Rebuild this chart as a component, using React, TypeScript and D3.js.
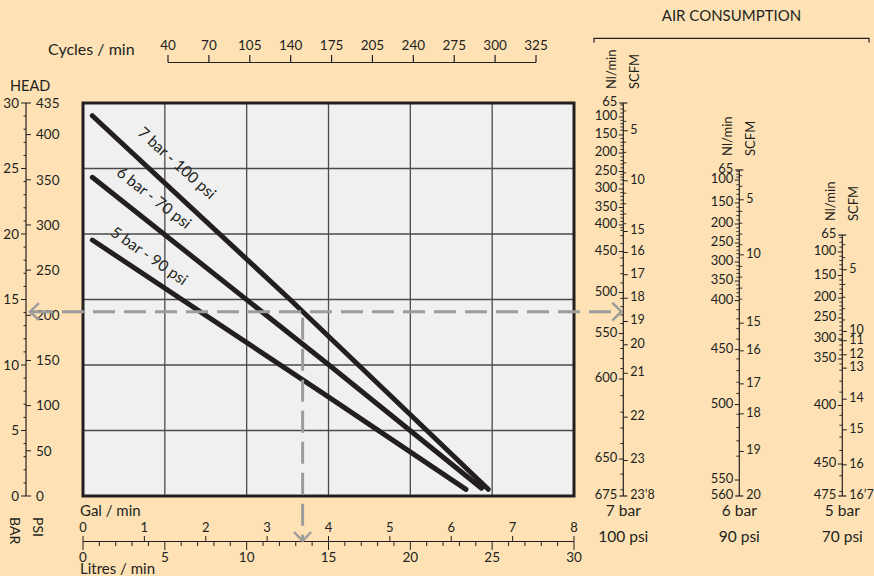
import React, { useEffect } from "react";
import * as d3 from "d3";

const W = 874;
const H = 576;
const FONT = "Lato, 'Open Sans', sans-serif";
const INK = "#231f20";
const BG = "#fee2b5";
const GUIDE = "#9c9c9c";

// ---- data ----
const CYCLES = ["40", "70", "105", "140", "175", "205", "240", "275", "300", "325"];
const BAR_TICKS = [0, 5, 10, 15, 20, 25, 30];
const PSI_TICKS = [0, 50, 100, 150, 200, 250, 300, 350, 400, 435];
const GAL_TICKS = [0, 1, 2, 3, 4, 5, 6, 7, 8];
const LITRE_TICKS = [0, 5, 10, 15, 20, 25, 30];

const SERIES_NAMES = ["7 bar - 100 psi", "6 bar - 70 psi", "5 bar - 90 psi"];
const S7_LITRES = [0.57, 12.65, 24.76];
const S7_BAR = [29.03, 15.0, 0.51];
const S6_LITRES = [0.57, 15.03, 24.35];
const S6_BAR = [24.33, 10.0, 0.59];
const S5_LITRES = [0.57, 14.97, 23.4];
const S5_BAR = [19.54, 7.58, 0.51];
// label anchor (litres, bar) and angle
const LABEL_LITRES = [5.68, 4.28, 4.0];
const LABEL_BAR = [25.34, 22.67, 18.24];
const LABEL_ANGLE = [42, 38, 35];

// operating point example
const OP_LITRES = 13.42;
const OP_BAR = 14.07;

// air consumption nomogram scales (value -> head bar position)
const AIR_BAR_LABELS = ["7 bar", "6 bar", "5 bar"];
const AIR_PSI_LABELS = ["100 psi", "90 psi", "70 psi"];

const A7_NL = [65, 100, 150, 200, 250, 300, 350, 400, 450, 500, 550, 600, 650, 675];
const A7_NL_HEAD = [30.0, 28.93, 27.56, 26.18, 24.77, 23.44, 22.02, 20.69, 18.66, 15.53, 12.4, 8.93, 2.82, 0];
const A7_SCFM = [5, 10, 15, 16, 17, 18, 19, 20, 21, 22, 23, 23.8];
const A7_SCFM_LABELS = ["5", "10", "15", "16", "17", "18", "19", "20", "21", "22", "23", "23’8"];
const A7_SCFM_HEAD = [27.88, 24.06, 20.19, 18.59, 16.89, 15.1, 13.32, 11.54, 9.37, 6.02, 2.71, 0];

const A6_NL = [65, 100, 150, 200, 250, 300, 350, 400, 450, 500, 550, 560];
const A6_NL_HEAD = [24.89, 24.12, 22.37, 20.76, 19.31, 17.86, 16.41, 14.92, 11.18, 6.98, 1.22, 0];
const A6_SCFM = [5, 10, 15, 16, 17, 18, 19, 20];
const A6_SCFM_LABELS = ["5", "10", "15", "16", "17", "18", "19", "20"];
const A6_SCFM_HEAD = [22.61, 18.41, 13.19, 11.08, 8.56, 6.27, 3.4, 0];

const A5_NL = [65, 100, 150, 200, 250, 300, 350, 400, 450, 475];
const A5_NL_HEAD = [19.92, 18.63, 16.83, 15.11, 13.59, 11.98, 10.46, 6.91, 2.44, 0];
const A5_SCFM = [5, 10, 11, 12, 13, 14, 15, 16, 16.7];
const A5_SCFM_LABELS = ["5", "10", "11", "12", "13", "14", "15", "16", "16’7"];
const A5_SCFM_HEAD = [17.27, 12.56, 11.85, 10.78, 9.76, 7.39, 5.05, 2.38, 0];

const NL_PER_SCFM = 28.317;

// ---- layout ----
const PL = 83, PR = 574, PT = 103, PB = 496;
const AIR_X = [623.3, 739.3, 842.3];

export default function App() {
  useEffect(() => {
    document.body.style.margin = "0";
  }, []);

  const x = d3.scaleLinear().domain([0, 30]).range([PL, PR]);
  const y = d3.scaleLinear().domain([0, 30]).range([PB, PT]);
  const psiY = d3.scaleLinear().domain([0, 435]).range([PB, PT]);
  const gal = d3.scaleLinear().domain([0, 8]).range([PL, PR]);
  const cyc = d3.scalePoint<string>().domain(CYCLES).range([168, 536]);

  const line = d3
    .line<[number, number]>()
    .x((d) => x(d[0]))
    .y((d) => y(d[1]));

  const series = [
    d3.zip(S7_LITRES, S7_BAR) as [number, number][],
    d3.zip(S6_LITRES, S6_BAR) as [number, number][],
    d3.zip(S5_LITRES, S5_BAR) as [number, number][],
  ];

  const airAxes = [
    { nl: A7_NL, nlH: A7_NL_HEAD, sc: A7_SCFM, scL: A7_SCFM_LABELS, scH: A7_SCFM_HEAD },
    { nl: A6_NL, nlH: A6_NL_HEAD, sc: A6_SCFM, scL: A6_SCFM_LABELS, scH: A6_SCFM_HEAD },
    { nl: A5_NL, nlH: A5_NL_HEAD, sc: A5_SCFM, scL: A5_SCFM_LABELS, scH: A5_SCFM_HEAD },
  ];

  const opX = x(OP_LITRES);
  const opY = y(OP_BAR);

  const textStyle = { fontFamily: FONT, fill: INK } as const;

  return (
    <svg
      width={W}
      height={H}
      viewBox={`0 0 ${W} ${H}`}
      style={{ position: "absolute", left: 0, top: 0, display: "block" }}
    >
      <rect x={0} y={0} width={W} height={H} fill={BG} />

      {/* ---- plot area ---- */}
      <rect x={PL} y={PT} width={PR - PL} height={PB - PT} fill="#f0f0f0" />
      {LITRE_TICKS.filter((v) => v > 0 && v < 30).map((v) => (
        <line key={"gx" + v} x1={x(v)} x2={x(v)} y1={PT} y2={PB} stroke="#4a4a4a" strokeWidth={1.3} />
      ))}
      {BAR_TICKS.filter((v) => v > 0 && v < 30).map((v) => (
        <line key={"gy" + v} x1={PL} x2={PR} y1={y(v)} y2={y(v)} stroke="#4a4a4a" strokeWidth={1.3} />
      ))}
      <rect x={PL} y={PT} width={PR - PL} height={PB - PT} fill="none" stroke={INK} strokeWidth={3} />

      {/* ---- curves ---- */}
      {series.map((s, i) => (
        <path key={"s" + i} d={line(s) || ""} fill="none" stroke={INK} strokeWidth={5} strokeLinecap="round" />
      ))}
      {SERIES_NAMES.map((n, i) => (
        <text
          key={"sl" + i}
          transform={`translate(${x(LABEL_LITRES[i])},${y(LABEL_BAR[i])}) rotate(${LABEL_ANGLE[i]})`}
          textAnchor="middle"
          dominantBaseline="middle"
          fontSize={15.5}
          style={textStyle}
        >
          {n}
        </text>
      ))}

      {/* ---- cycles axis ---- */}
      <text x={48} y={55} fontSize={16} style={textStyle}>
        Cycles / min
      </text>
      <line x1={cyc(CYCLES[0])} x2={cyc(CYCLES[CYCLES.length - 1])} y1={62.5} y2={62.5} stroke={INK} strokeWidth={1.2} />
      {CYCLES.map((c) => (
        <g key={"c" + c}>
          <line x1={cyc(c)} x2={cyc(c)} y1={62.5} y2={55} stroke={INK} strokeWidth={1.2} />
          <text x={cyc(c)} y={50} textAnchor="middle" fontSize={13.5} style={textStyle}>
            {c}
          </text>
        </g>
      ))}

      {/* ---- head axis (bar / psi) ---- */}
      <text x={10} y={91} fontSize={14.5} style={textStyle}>
        HEAD
      </text>
      <line x1={26} x2={26} y1={PT} y2={PB} stroke={INK} strokeWidth={1.2} />
      {d3.range(0, 31).map((v) => (
        <line
          key={"bm" + v}
          x1={v % 5 === 0 ? 21 : 23.5}
          x2={26}
          y1={y(v)}
          y2={y(v)}
          stroke={INK}
          strokeWidth={1}
        />
      ))}
      {BAR_TICKS.map((v) => (
        <text key={"bl" + v} x={19} y={y(v)} dy="0.35em" textAnchor="end" fontSize={13.5} style={textStyle}>
          {v}
        </text>
      ))}
      {PSI_TICKS.map((v) => (
        <g key={"p" + v}>
          <line x1={26} x2={31} y1={psiY(v)} y2={psiY(v)} stroke={INK} strokeWidth={1} />
          <text x={36} y={psiY(v)} dy="0.35em" fontSize={13.5} style={textStyle}>
            {v}
          </text>
        </g>
      ))}
      <text transform="translate(10,517) rotate(90)" fontSize={14} style={textStyle}>
        BAR
      </text>
      <text transform="translate(33,517) rotate(90)" fontSize={14} style={textStyle}>
        PSI
      </text>

      {/* ---- bottom axes ---- */}
      <text x={80} y={516} fontSize={15} style={textStyle}>
        Gal / min
      </text>
      <line x1={PL} x2={PR} y1={541.5} y2={541.5} stroke={INK} strokeWidth={1.2} />
      {GAL_TICKS.map((v) => (
        <g key={"g" + v}>
          <line x1={gal(v)} x2={gal(v)} y1={541.5} y2={536} stroke={INK} strokeWidth={1} />
          <text x={gal(v)} y={532} textAnchor="middle" fontSize={13} style={textStyle}>
            {v}
          </text>
        </g>
      ))}
      {d3.range(0, 31).map((v) => (
        <line
          key={"lm" + v}
          x1={x(v)}
          x2={x(v)}
          y1={541.5}
          y2={v % 5 === 0 ? 550 : 546}
          stroke={INK}
          strokeWidth={1}
        />
      ))}
      {LITRE_TICKS.map((v) => (
        <text key={"l" + v} x={x(v)} y={562} textAnchor="middle" fontSize={13.5} style={textStyle}>
          {v}
        </text>
      ))}
      <text x={80} y={574} fontSize={15} style={textStyle}>
        Litres / min
      </text>

      {/* ---- air consumption ---- */}
      <text x={731.5} y={21} textAnchor="middle" fontSize={15} style={textStyle}>
        AIR CONSUMPTION
      </text>
      <path d="M594,42.5 V38.3 H869 V42.5" fill="none" stroke={INK} strokeWidth={1.2} />

      {airAxes.map((a, i) => {
        const ax = AIR_X[i];
        const pairs: [number, number][] = [
          ...a.nl.map((v, k) => [v, a.nlH[k]] as [number, number]),
          ...a.sc.map((v, k) => [v * NL_PER_SCFM, a.scH[k]] as [number, number]),
        ].sort((p, q) => p[0] - q[0]);
        const cal = d3
          .scaleLinear()
          .domain(pairs.map((p) => p[0]))
          .range(pairs.map((p) => p[1]))
          .clamp(true);
        const nlMax = a.nl[a.nl.length - 1];
        const scMax = a.sc[a.sc.length - 1];
        const topY = y(a.nlH[0]);
        const botY = y(a.nlH[a.nlH.length - 1]);
        const minorNl = d3.range(70, nlMax, 10).filter((v) => !a.nl.includes(v));
        const minorSc = d3.range(3, scMax, 1).filter((v) => !a.sc.includes(v));
        return (
          <g key={"air" + i}>
            <line x1={ax} x2={ax} y1={topY} y2={botY} stroke={INK} strokeWidth={1.2} />
            <line x1={ax - 4} x2={ax + 4} y1={topY} y2={topY} stroke={INK} strokeWidth={1.2} />
            <line x1={ax - 4} x2={ax + 4} y1={botY} y2={botY} stroke={INK} strokeWidth={1.2} />
            {minorNl.map((v) => (
              <line key={"mn" + v} x1={ax - 3} x2={ax} y1={y(cal(v))} y2={y(cal(v))} stroke={INK} strokeWidth={0.9} />
            ))}
            {minorSc.map((v) => (
              <line
                key={"ms" + v}
                x1={ax}
                x2={ax + 3}
                y1={y(cal(v * NL_PER_SCFM))}
                y2={y(cal(v * NL_PER_SCFM))}
                stroke={INK}
                strokeWidth={0.9}
              />
            ))}
            {a.nl.map((v, k) => (
              <g key={"nl" + v}>
                {k > 0 && k < a.nl.length - 1 && (
                  <line x1={ax - 4.5} x2={ax} y1={y(a.nlH[k])} y2={y(a.nlH[k])} stroke={INK} strokeWidth={1} />
                )}
                <text
                  x={ax - 6}
                  y={y(a.nlH[k]) - 1.5}
                  dy="0.35em"
                  textAnchor="end"
                  fontSize={13}
                  style={textStyle}
                >
                  {v}
                </text>
              </g>
            ))}
            {a.sc.map((v, k) => (
              <g key={"sc" + v}>
                {k < a.sc.length - 1 && (
                  <line x1={ax} x2={ax + 4.5} y1={y(a.scH[k])} y2={y(a.scH[k])} stroke={INK} strokeWidth={1} />
                )}
                <text x={ax + 7} y={y(a.scH[k]) - 1.5} dy="0.35em" fontSize={12.5} style={textStyle}>
                  {a.scL[k]}
                </text>
              </g>
            ))}
            <text
              transform={`translate(${ax - 7.5},${topY - 14}) rotate(-90)`}
              fontSize={13}
              style={textStyle}
            >
              Nl/min
            </text>
            <text
              transform={`translate(${ax + 16},${topY - 14}) rotate(-90)`}
              fontSize={13}
              style={textStyle}
            >
              SCFM
            </text>
            <text x={ax} y={516} textAnchor="middle" fontSize={15.5} style={textStyle}>
              {AIR_BAR_LABELS[i]}
            </text>
            <text x={ax} y={542} textAnchor="middle" fontSize={15.5} style={textStyle}>
              {AIR_PSI_LABELS[i]}
            </text>
          </g>
        );
      })}

      {/* ---- guide lines ---- */}
      <line x1={31} x2={AIR_X[0] - 2} y1={opY} y2={opY} stroke={GUIDE} strokeWidth={3} strokeDasharray="22 9" />
      <line x1={opX} x2={opX} y1={opY + 6} y2={539} stroke={GUIDE} strokeWidth={3} strokeDasharray="22 9" />
      <polyline
        points={`${39},${opY - 8.5} ${30},${opY} ${39},${opY + 8.5}`}
        fill="none"
        stroke={GUIDE}
        strokeWidth={2.5}
      />
      <polyline
        points={`${AIR_X[0] - 11},${opY - 9} ${AIR_X[0] - 2},${opY} ${AIR_X[0] - 11},${opY + 9}`}
        fill="none"
        stroke={GUIDE}
        strokeWidth={2.5}
      />
      <polyline
        points={`${opX - 8.5},${532} ${opX},${541} ${opX + 8.5},${532}`}
        fill="none"
        stroke={GUIDE}
        strokeWidth={2.5}
      />
    </svg>
  );
}
